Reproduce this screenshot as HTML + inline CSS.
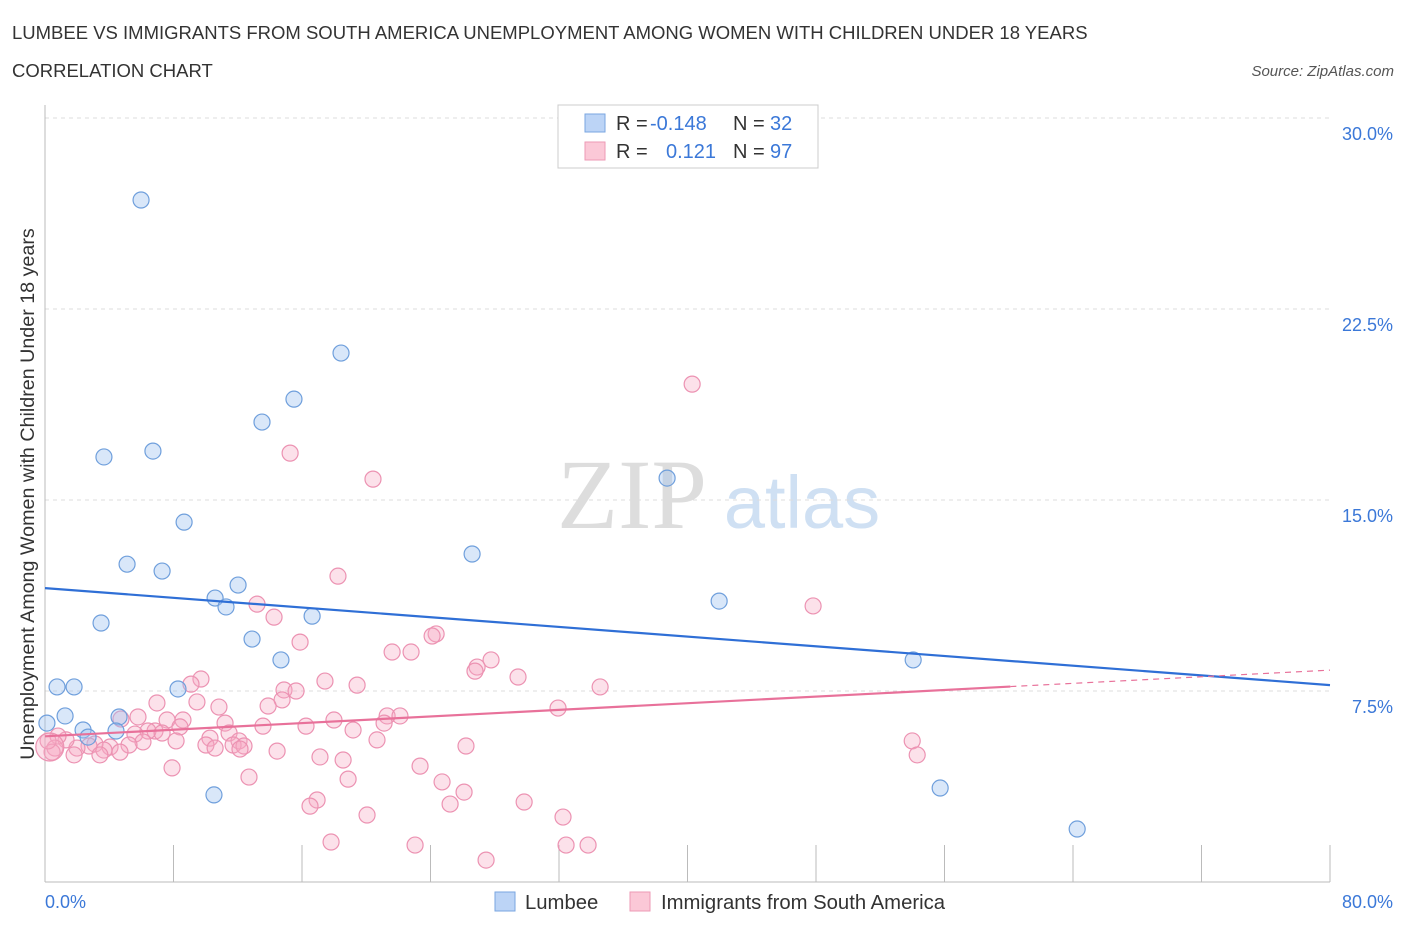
<!DOCTYPE html>
<html><head><meta charset="utf-8"><style>
body{margin:0;background:#fff;font-family:"Liberation Sans",sans-serif;}
</style></head><body>
<svg id="chart" width="1406" height="930" xmlns="http://www.w3.org/2000/svg">
<text x="12" y="39" font-size="18.5" fill="#333">LUMBEE VS IMMIGRANTS FROM SOUTH AMERICA UNEMPLOYMENT AMONG WOMEN WITH CHILDREN UNDER 18 YEARS</text>
<text x="12" y="77" font-size="18.5" fill="#333">CORRELATION CHART</text>
<text x="1394" y="76" font-size="15" fill="#555" font-style="italic" text-anchor="end">Source: ZipAtlas.com</text>
<g>
<text x="632" y="528" font-size="100" fill="#ddd" font-family="Liberation Serif,serif" text-anchor="middle">ZIP</text>
<text x="802" y="528" font-size="74" fill="#cfe0f3" text-anchor="middle">atlas</text>
</g>
<g id="grid"></g><g id="axes"></g><g id="pts"></g><g id="trend"></g>
<text transform="translate(34,494) rotate(-90)" font-size="19.7" fill="#333" text-anchor="middle">Unemployment Among Women with Children Under 18 years</text>
<g>
<rect x="558" y="105" width="260" height="63" fill="#fff" stroke="#ccc"/>
<rect x="585" y="114" width="20" height="18" fill="#bcd4f6" stroke="#7aa6e0"/>
<rect x="585" y="142" width="20" height="18" fill="#fbc8d7" stroke="#ec9ab6"/>
<text x="616" y="130" font-size="20" fill="#333">R = </text><text x="650" y="130" font-size="20" fill="#3b78d8">-0.148</text>
<text x="733" y="130" font-size="20" fill="#333">N = </text><text x="770" y="130" font-size="20" fill="#3b78d8">32</text>
<text x="616" y="158" font-size="20" fill="#333">R = </text><text x="666" y="158" font-size="20" fill="#3b78d8">0.121</text>
<text x="733" y="158" font-size="20" fill="#333">N = </text><text x="770" y="158" font-size="20" fill="#3b78d8">97</text>
</g>
<g>
<rect x="495" y="892" width="20" height="19" fill="#bcd4f6" stroke="#7aa6e0"/>
<text x="525" y="909" font-size="20.3" fill="#333">Lumbee</text>
<rect x="630" y="892" width="20" height="19" fill="#fbc8d7" stroke="#ec9ab6"/>
<text x="661" y="909" font-size="20.3" fill="#333">Immigrants from South America</text>
</g>
</svg>
<script>
const yTicks=[7.5,15,22.5,30];
const yTickLabels=["7.5%","15.0%","22.5%","30.0%"];
const xTickLabels=["0.0%","80.0%"];
const lumbeeX=[5.98,18.43,15.50,13.51,3.67,6.72,38.73,8.66,26.59,5.11,7.29,12.02,10.59,11.27,16.63,41.97,3.49,12.89,14.69,54.05,0.75,1.81,8.28,1.25,4.61,2.37,2.68,0.12,4.42,10.52,55.73,64.26];
const lumbeeY=[26.78,20.77,18.96,18.06,16.69,16.92,15.86,14.13,12.88,12.48,12.21,11.66,11.15,10.80,10.44,11.03,10.17,9.54,8.72,8.72,7.66,7.66,7.58,6.52,6.48,5.97,5.69,6.24,5.93,3.42,3.69,2.08];
const immX=[40.29,15.26,20.42,18.24,47.82,13.20,14.26,15.88,24.35,24.10,21.61,22.79,27.77,26.90,26.77,29.45,34.56,9.71,9.09,17.43,19.43,14.88,15.63,14.76,6.97,9.46,10.83,31.94,13.89,21.30,22.10,21.11,17.99,16.25,19.18,13.57,11.21,8.59,7.60,5.79,4.73,8.40,6.85,6.41,7.29,5.60,11.46,10.27,12.08,20.67,11.71,12.39,12.14,10.02,10.59,8.16,6.10,5.23,4.05,3.11,2.74,1.99,3.67,4.67,3.42,1.81,1.31,0.81,0.62,0.44,0.19,14.45,26.21,53.99,54.30,17.12,18.56,23.35,7.91,12.70,18.87,24.72,26.09,16.94,16.50,25.22,29.83,20.05,32.25,17.81,23.04,32.44,33.81,27.46,0.3];
const immY=[19.55,16.84,15.82,12.01,10.84,10.91,10.40,9.42,9.74,9.66,9.03,9.03,8.72,8.44,8.28,8.05,7.66,7.97,7.77,7.89,7.73,7.54,7.50,7.15,7.03,7.07,6.87,6.83,6.91,6.52,6.52,6.24,6.36,6.12,5.97,6.12,6.24,6.36,6.36,6.48,6.40,6.09,5.93,5.93,5.85,5.81,5.85,5.65,5.54,5.58,5.38,5.34,5.22,5.38,5.26,5.54,5.50,5.38,5.30,5.42,5.34,5.26,5.18,5.10,4.99,4.99,5.58,5.73,5.26,5.10,5.54,5.14,5.34,5.54,4.99,4.91,4.79,4.55,4.48,4.12,4.04,3.93,3.53,3.22,2.98,3.06,3.14,2.63,2.55,1.57,1.45,1.45,1.45,0.86,5.3];
const lumbeeTrend=[11.54,-0.0476]; // intercept, slope
const immTrend=[5.72,0.0325];
const X=v=>45+v*(1285/80), Y=v=>882-v*(764/30);
const NS="http://www.w3.org/2000/svg";
function mk(p,t,a){const e=document.createElementNS(NS,t);for(const k in a)e.setAttribute(k,a[k]);p.appendChild(e);return e;}
const grid=document.getElementById('grid'),axes=document.getElementById('axes'),pts=document.getElementById('pts'),tr=document.getElementById('trend');
yTicks.forEach((v,i)=>{
 const l=mk(grid,'line',{x1:45,x2:1330,y1:Y(v),y2:Y(v),stroke:'#ddd','stroke-dasharray':'4,4'});
 
 
 const t=mk(axes,'text',{x:1393,y:Y(v)+22,'font-size':18,fill:'#3b78d8','text-anchor':'end'});t.textContent=yTickLabels[i];
 
 
});
const ax=mk(axes,'line',{x1:45,x2:1330,y1:882,y2:882,stroke:'#bbb'});


const ay=mk(axes,'line',{x1:45,x2:45,y1:105,y2:882,stroke:'#bbb'});


for(let i=0;i<=10;i++){const t=mk(axes,'line',{x1:X(i*8),x2:X(i*8),y1:845,y2:882,stroke:'#bbb'});
 
 }
[[0,45,'start'],[80,1393,'end']].forEach((d,i)=>{const t=mk(axes,'text',{x:d[1],y:908,'font-size':18,fill:'#3b78d8','text-anchor':d[2]});t.textContent=xTickLabels[i];
 
 });
immX.forEach((x,i)=>{const c=mk(pts,'circle',{cx:X(x),cy:Y(immY[i]),r:i==immX.length-1?14:8,fill:'rgba(245,170,195,0.35)',stroke:'#ec92b2','stroke-width':1.2});
 
 });
lumbeeX.forEach((x,i)=>{const c=mk(pts,'circle',{cx:X(x),cy:Y(lumbeeY[i]),r:8,fill:'rgba(160,195,240,0.4)',stroke:'#6f9fdc','stroke-width':1.2});
 
 });
const f=(t,x)=>t[0]+t[1]*x;
const bl=mk(tr,'line',{x1:X(0),y1:Y(f(lumbeeTrend,0)),x2:X(80),y2:Y(f(lumbeeTrend,80)),stroke:'#2f6fd6','stroke-width':2.2});


const maxImm=60.1;
const pl=mk(tr,'line',{x1:X(0),y1:Y(f(immTrend,0)),x2:X(maxImm),y2:Y(f(immTrend,maxImm)),stroke:'#e8719a','stroke-width':2.2});


const pd=mk(tr,'line',{x1:X(maxImm),y1:Y(f(immTrend,maxImm)),x2:X(80),y2:Y(f(immTrend,80)),stroke:'#e8719a','stroke-width':1.2,'stroke-dasharray':'6,5'});


</script>
</body></html>
